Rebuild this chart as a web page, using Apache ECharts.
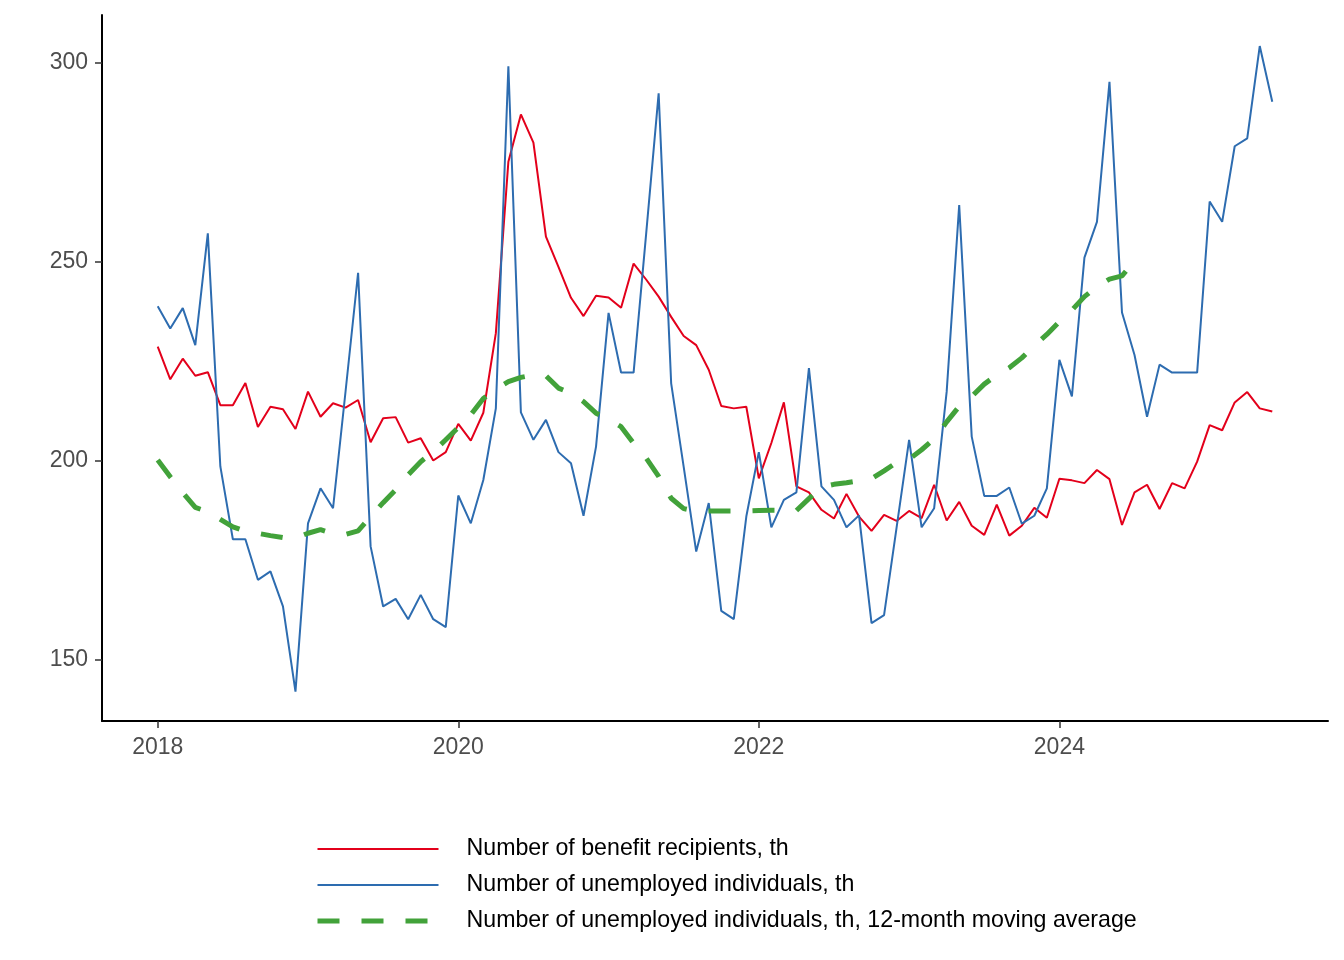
<!DOCTYPE html>
<html>
<head>
<meta charset="utf-8">
<script src="https://cdn.jsdelivr.net/npm/echarts@6/dist/echarts.min.js"></script>
<style>html,body{margin:0;padding:0;background:#fff;}#c{width:1344px;height:960px;}</style>
</head>
<body>
<div id="c"></div>
<script>
// Monthly data starting January 2018 (index 0 = Jan 2018)
const startYear = 2018;
const xTickMonths = [0, 24, 48, 72];
const xTickLabels = ['2018', '2020', '2022', '2024'];
const yTickValues = [150, 200, 250, 300];

const seriesNames = [
  'Number of benefit recipients, th',
  'Number of unemployed individuals, th',
  'Number of unemployed individuals, th, 12-month moving average'
];

const benefitRecipients = [
  228.7, 220.5, 225.7, 221.4, 222.3, 214.0, 214.0, 219.6, 208.5, 213.6, 213.0, 208.0,
  217.4, 211.1, 214.5, 213.4, 215.3, 204.7, 210.7, 211.0, 204.6, 205.7, 200.1, 202.2,
  209.3, 205.1, 212.1, 232.1, 275.2, 287.1, 280.0, 256.4, 248.8, 241.0, 236.4, 241.5,
  241.1, 238.5, 249.6, 245.6, 241.3, 236.2, 231.4, 229.1, 222.9, 213.8, 213.2, 213.6,
  195.6, 204.5, 214.7, 193.6, 192.1, 187.7, 185.5, 191.7, 186.0, 182.4, 186.4, 184.9,
  187.4, 185.6, 194.0, 185.0, 189.7, 183.7, 181.4, 189.0, 181.2, 183.7, 188.2, 185.7,
  195.5, 195.1, 194.4, 197.7, 195.4, 183.9, 192.1, 194.0, 187.9, 194.4, 193.1, 199.8,
  209.0, 207.7, 214.7, 217.3, 213.2, 212.4
];

const unemployed = [
  238.9, 233.3, 238.4, 229.1, 257.2, 198.6, 180.3, 180.3, 170.1, 172.2, 163.4, 142.0,
  184.3, 193.1, 188.1, 217.5, 247.3, 178.5, 163.4, 165.3, 160.2, 166.3, 160.2, 158.2,
  191.3, 184.3, 195.2, 213.2, 299.2, 212.2, 205.3, 210.3, 202.2, 199.4, 186.2, 203.6,
  237.2, 222.2, 222.2, 257.0, 292.4, 219.5, 198.5, 177.2, 189.4, 162.3, 160.2, 186.0,
  202.2, 183.3, 190.2, 192.1, 223.3, 193.6, 190.2, 183.3, 186.3, 159.2, 161.2, 183.2,
  205.3, 183.3, 188.1, 217.4, 264.3, 206.1, 191.2, 191.2, 193.3, 184.2, 186.2, 193.1,
  225.4, 216.2, 251.1, 260.1, 295.3, 237.3, 226.6, 211.1, 224.2, 222.2, 222.2, 222.2,
  265.2, 260.1, 279.1, 281.1, 304.3, 290.3
];

const unemployedMA12 = [
  200.2, 196.0, 192.0, 188.3, 187.2, 185.3, 183.4, 182.3, 181.8, 181.2, 180.7, 180.6,
  181.8, 182.7, 181.7, 181.5, 182.4, 186.0, 189.5, 192.7, 196.5, 199.8, 202.3, 205.3,
  208.4, 211.6, 215.7, 218.0, 219.9, 221.0, 221.6, 221.4, 218.3, 217.0, 214.9, 212.0,
  210.5, 208.6, 204.4, 200.7, 196.1, 190.6, 188.0, 187.3, 187.4, 187.4, 187.4, 187.4,
  187.5, 187.6, 187.6, 187.5, 190.5, 193.4, 194.1, 194.5, 195.0, 195.5, 197.5, 199.6,
  200.4, 202.8, 205.5, 209.8, 213.7, 216.2, 219.3, 221.6, 223.4, 225.9, 229.0, 231.8,
  235.0, 237.9, 241.3, 243.8, 245.7, 246.5, 250.3
];

const colors = ['#e3001b', '#2d6cb0', '#42a23a'];
const lineWidths = [2, 2, 5];

function toPairs(arr) { return arr.map((v, i) => [i, v]); }

const chart = echarts.init(document.getElementById('c'), null, { renderer: 'canvas' });
const font = 'Liberation Sans, Arial, Helvetica, sans-serif';

chart.setOption({
  animation: false,
  backgroundColor: '#ffffff',
  grid: { left: 102, right: 16, top: 15, bottom: 239, containLabel: false },
  xAxis: {
    type: 'value',
    min: -4.45,
    max: 93.45,
    splitLine: { show: false },
    axisLine: { show: true, onZero: false, lineStyle: { color: '#000', width: 2 } },
    axisTick: { show: true, length: 7, customValues: xTickMonths, lineStyle: { color: '#333', width: 1.5 } },
    axisLabel: {
      customValues: xTickMonths,
      margin: 15,
      color: '#4d4d4d',
      fontSize: 23,
      fontFamily: font,
      formatter: function (v) {
        const k = xTickMonths.indexOf(Math.round(v));
        return k >= 0 ? xTickLabels[k] : String(startYear + v / 12);
      }
    }
  },
  yAxis: {
    type: 'value',
    min: 134.6,
    max: 312.1,
    splitLine: { show: false },
    axisLine: { show: true, onZero: false, lineStyle: { color: '#000', width: 2 } },
    axisTick: { show: true, length: 7, customValues: yTickValues, lineStyle: { color: '#333', width: 1.5 } },
    axisLabel: {
      customValues: yTickValues,
      margin: 14,
      color: '#4d4d4d',
      fontSize: 23,
      fontFamily: font
    }
  },
  legend: {
    orient: 'vertical',
    left: 315,
    top: 837,
    padding: 0,
    itemWidth: 121,
    itemHeight: 24,
    itemGap: 12,
    itemStyle: { opacity: 0 },
    textStyle: { color: '#000', fontSize: 23.2, fontFamily: font, padding: [0, 0, 0, 23], lineHeight: 24 },
    data: seriesNames.map((n, i) => ({ name: n, lineStyle: { width: lineWidths[i] } }))
  },
  series: [
    {
      name: seriesNames[0], type: 'line', data: toPairs(benefitRecipients),
      symbol: 'none', color: colors[0],
      lineStyle: { color: colors[0], width: lineWidths[0] }
    },
    {
      name: seriesNames[1], type: 'line', data: toPairs(unemployed),
      symbol: 'none', color: colors[1],
      lineStyle: { color: colors[1], width: lineWidths[1] }
    },
    {
      name: seriesNames[2], type: 'line', data: toPairs(unemployedMA12),
      symbol: 'none', color: colors[2],
      lineStyle: { color: colors[2], width: lineWidths[2], type: [22, 22], cap: 'butt' }
    }
  ]
});
</script>
</body>
</html>
